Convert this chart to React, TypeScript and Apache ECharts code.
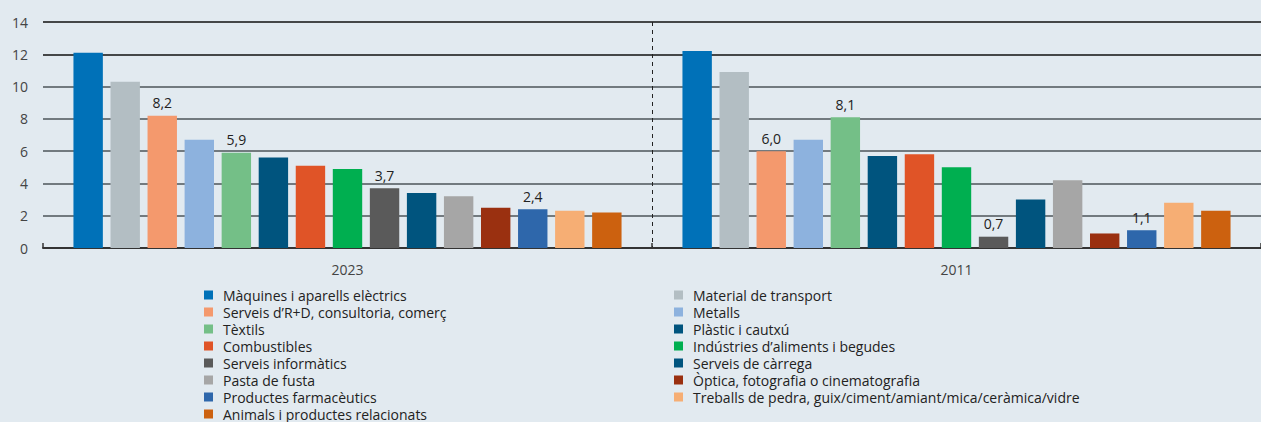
import React, { useEffect, useRef } from "react";
import * as echarts from "echarts";

const categories = ["2023", "2011"];
const seriesNames = [
  "Màquines i aparells elèctrics",
  "Material de transport",
  "Serveis d’R+D, consultoria, comerç",
  "Metalls",
  "Tèxtils",
  "Plàstic i cautxú",
  "Combustibles",
  "Indústries d’aliments i begudes",
  "Serveis informàtics",
  "Serveis de càrrega",
  "Pasta de fusta",
  "Òptica, fotografia o cinematografia",
  "Productes farmacèutics",
  "Treballs de pedra, guix/ciment/amiant/mica/ceràmica/vidre",
  "Animals i productes relacionats",
];
const values2023 = [12.1, 10.3, 8.2, 6.7, 5.9, 5.6, 5.1, 4.9, 3.7, 3.4, 3.2, 2.5, 2.4, 2.3, 2.2];
const values2011 = [12.2, 10.9, 6.0, 6.7, 8.1, 5.7, 5.8, 5.0, 0.7, 3.0, 4.2, 0.9, 1.1, 2.8, 2.3];
const colors = [
  "#0071b8", "#b3bec3", "#f4996d", "#8db2de", "#74bf87", "#00547e", "#e05427", "#00af50",
  "#5a5a5a", "#00547e", "#a6a6a6", "#9a3010", "#2e67ab", "#f6ae74", "#cc610f",
];
const labeledSeries = [2, 4, 8, 12];
const yTicks = [0, 2, 4, 6, 8, 10, 12, 14];

const FONT = "Open Sans";

export default function App() {
  const ref = useRef<HTMLDivElement>(null);
  useEffect(() => {
    document.body.style.margin = "0";
    const chart = echarts.init(ref.current!, null, { renderer: "svg" });
    const series = seriesNames.map((name, i) => ({
      name,
      type: "bar",
      data: [values2023[i], values2011[i]],
      itemStyle: { color: colors[i] },
      barGap: "26%",
      barCategoryGap: "10%",
      label: {
        show: labeledSeries.includes(i),
        position: "top",
        distance: 6,
        color: "#222",
        fontSize: 14,
        fontFamily: FONT,
        formatter: (p: any) => p.value.toFixed(1).replace(".", ","),
      },
    }));
    const legendBase = {
      orient: "vertical",
      icon: "rect",
      itemWidth: 9,
      itemHeight: 9,
      itemGap: 3,
      padding: 0,
      height: 140,
      selectedMode: false,
      textStyle: {
        fontFamily: FONT,
        fontSize: 14,
        lineHeight: 14,
        color: "#222",
        padding: [0, 0, 0, 5],
      },
    };
    chart.setOption({
      animation: false,
      backgroundColor: "#e2eaf0",
      color: colors,
      grid: { left: 43, right: 0, top: 22, bottom: 174 },
      legend: [
        { ...legendBase, left: 204, top: 288, data: seriesNames.filter((_, i) => i % 2 === 0) },
        { ...legendBase, left: 674, top: 288, data: seriesNames.filter((_, i) => i % 2 === 1) },
      ],
      xAxis: {
        type: "category",
        data: categories,
        axisLine: { lineStyle: { color: "#333", width: 2 } },
        axisTick: { show: true, inside: true, length: 5, lineStyle: { color: "#333", width: 1.5 } },
        axisLabel: { color: "#444", fontSize: 14, fontFamily: FONT, margin: 14 },
        splitLine: {
          show: true,
          lineStyle: { color: ["rgba(0,0,0,0)", "#222", "rgba(0,0,0,0)"], type: [4, 4], width: 1 },
        },
      },
      yAxis: {
        type: "value",
        min: yTicks[0],
        max: yTicks[yTicks.length - 1],
        interval: 2,
        axisLine: { show: false },
        axisTick: { show: false },
        axisLabel: { color: "#444", fontSize: 14, fontFamily: FONT, margin: 15 },
        splitLine: {
          lineStyle: {
            color: ["#333", "#4c555a", "#4c555a", "#4c555a", "#4c555a", "#4c555a", "#111", "#111"],
            width: 1.5,
          },
        },
      },
      series,
    });
    return () => chart.dispose();
  }, []);
  return <div ref={ref} style={{ width: 1261, height: 422 }} />;
}
